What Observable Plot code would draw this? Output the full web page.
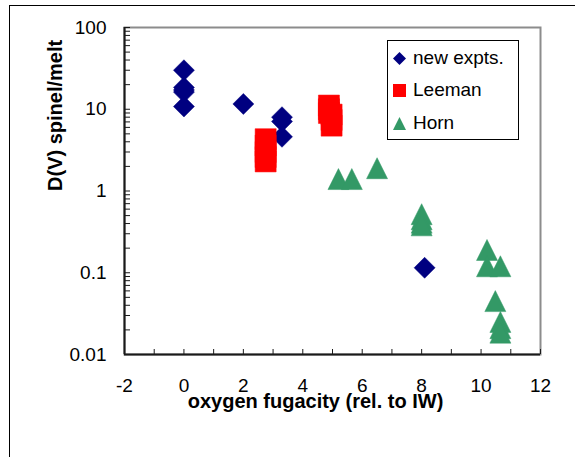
<!DOCTYPE html>
<html><head><meta charset="utf-8">
<script src="https://cdn.jsdelivr.net/npm/d3@7"></script>
<script src="https://cdn.jsdelivr.net/npm/@observablehq/plot@0.6"></script>
<style>
html,body{margin:0;padding:0;background:#fff;}
#wrap{position:relative;width:575px;height:457px;overflow:hidden;font-family:"Liberation Sans",Arial,sans-serif;}
#wrap svg.plot{position:absolute;left:0;top:0;}
#border{position:absolute;left:9px;top:5px;width:640px;height:540px;border:1px solid #000;pointer-events:none;z-index:2;}
#legend{position:absolute;left:387px;top:40px;width:130px;height:98px;border:1px solid #000;background:#fff;z-index:3;}
.item{position:absolute;left:0;height:22px;display:flex;align-items:center;font-size:19px;color:#000;white-space:nowrap;}
.item svg{margin-left:5px;margin-right:7px;}
</style></head><body><div id="wrap"></div>
<script>
// ---- data ----
const seriesNames = ["new expts.", "Leeman", "Horn"];
const seriesColors = ["#000080", "#FF0000", "#339966"];

const newX = [0, 0, 0, 0, 0, 2, 3.3, 3.3, 3.3, 8.1];
const newY = [30, 18.5, 17.2, 16.2, 10.8, 11.6, 8.0, 7.1, 4.6, 0.115];

const leemanX = [2.75, 2.75, 2.75, 2.75, 2.75, 4.88, 4.88, 4.88, 4.97, 4.97, 4.97];
const leemanY = [4.3, 3.6, 3.0, 2.6, 2.3, 11.1, 10.0, 9.0, 8.6, 7.4, 6.3];

const hornX = [5.2, 5.65, 6.5, 8.0, 8.0, 8.0, 8.0, 10.2, 10.2, 10.65, 10.48, 10.65, 10.65, 10.65];
const hornY = [1.4, 1.4, 1.9, 0.52, 0.45, 0.41, 0.38, 0.19, 0.12, 0.12, 0.045, 0.025, 0.021, 0.0185];

const xDomain = [-2, 12];
const yDomain = [0.01, 100];
const xTickLabels = [-2, 0, 2, 4, 6, 8, 10, 12];
const xTickMarks = [-2, -1, 0, 1, 2, 3, 4, 5, 6, 7, 8, 9, 10, 11, 12];
const yTickLabels = [0.01, 0.1, 1, 10, 100];
const yTickMarks = [];
for (const d of [0.01, 0.1, 1, 10]) for (let m = 1; m <= 9; m++) yTickMarks.push(+(d * m).toPrecision(2));
yTickMarks.push(100);

const xTitle = "oxygen fugacity (rel. to IW)";
const yTitle = "D(V) spinel/melt";

// ---- Excel-like marker shapes ----
const diamondSym = {draw(ctx, size) { const s = Math.sqrt(size / Math.PI); ctx.moveTo(0, -s); ctx.lineTo(s, 0); ctx.lineTo(0, s); ctx.lineTo(-s, 0); ctx.closePath(); }};
const squareSym = {draw(ctx, size) { const s = Math.sqrt(size / Math.PI); ctx.moveTo(-s, -s); ctx.lineTo(s, -s); ctx.lineTo(s, s); ctx.lineTo(-s, s); ctx.closePath(); }};
const triangleSym = {draw(ctx, size) { const s = Math.sqrt(size / Math.PI); ctx.moveTo(0, -s); ctx.lineTo(s, s); ctx.lineTo(-s, s); ctx.closePath(); }};
const symbols = [diamondSym, squareSym, triangleSym];

const toRows = (xs, ys) => xs.map((x, i) => ({x, y: ys[i]}));
const newData = toRows(newX, newY);
const leemanData = toRows(leemanX, leemanY);
const hornData = toRows(hornX, hornY);

const W = 575, H = 457;
const mL = 124, mR = 35, mT = 27, mB = 103;
const plotW = W - mL - mR, plotH = H - mT - mB;
const R = 10.5;

const chart = Plot.plot({
  width: W, height: H,
  marginLeft: mL, marginRight: mR, marginTop: mT, marginBottom: mB,
  style: {fontFamily: "'Liberation Sans', Arial, sans-serif", fontSize: "19px", background: "transparent", color: "#000"},
  x: {domain: xDomain, label: null},
  y: {type: "log", domain: yDomain, label: null},
  marks: [
    Plot.frame({stroke: "#8c8c8c", strokeWidth: 2}),
    Plot.ruleX([xDomain[0]], {stroke: "#1a1a1a", strokeWidth: 2}),
    Plot.ruleY([yDomain[0]], {stroke: "#1a1a1a", strokeWidth: 2}),
    Plot.tickX(xTickMarks, {x: d => d, insetTop: plotH - 5, stroke: "#1a1a1a", strokeWidth: 1}),
    Plot.tickY(yTickMarks, {y: d => d, insetRight: plotW - 6, stroke: "#1a1a1a", strokeWidth: 1}),
    Plot.axisX({ticks: xTickLabels, tickSize: 0, tickPadding: 24, tickFormat: d => String(d), fontSize: 19, label: null}),
    Plot.axisY({ticks: yTickLabels, tickSize: 0, tickPadding: 18, tickFormat: d => String(d), fontSize: 19, label: null}),
    Plot.dot(newData, {x: "x", y: "y", symbol: symbols[0], r: R, fill: seriesColors[0], stroke: seriesColors[0], strokeWidth: 0.5}),
    Plot.dot(leemanData, {x: "x", y: "y", symbol: symbols[1], r: R, fill: seriesColors[1], stroke: seriesColors[1], strokeWidth: 0.5}),
    Plot.dot(hornData, {x: "x", y: "y", symbol: symbols[2], r: R, fill: seriesColors[2], stroke: seriesColors[2], strokeWidth: 0.5}),
    Plot.text([xTitle], {frameAnchor: "bottom", dy: 53, dx: -17, lineAnchor: "bottom", fontWeight: "bold", fontSize: 20, fill: "#000"}),
    Plot.text([yTitle], {frameAnchor: "left", rotate: -90, dx: -63, lineAnchor: "bottom", fontWeight: "bold", fontSize: 20, fill: "#000"})
  ]
});

const wrap = document.getElementById("wrap");
wrap.appendChild(chart);
const border = document.createElement("div");
border.id = "border";
wrap.appendChild(border);

// legend
const legend = document.createElement("div");
legend.id = "legend";
const rowCenters = [17, 49, 82];
seriesNames.forEach((name, i) => {
  const item = document.createElement("div");
  item.className = "item";
  item.style.top = (rowCenters[i] - 11) + "px";
  const svg = d3.create("svg").attr("width", 13).attr("height", 13).attr("viewBox", "-6.5 -6.5 13 13");
  const p = d3.path();
  symbols[i].draw(p, Math.PI * 6.5 * 6.5);
  svg.append("path").attr("d", p.toString()).attr("fill", seriesColors[i]);
  item.appendChild(svg.node());
  const span = document.createElement("span");
  span.textContent = name;
  item.appendChild(span);
  legend.appendChild(item);
});
wrap.appendChild(legend);
</script>
</body></html>
